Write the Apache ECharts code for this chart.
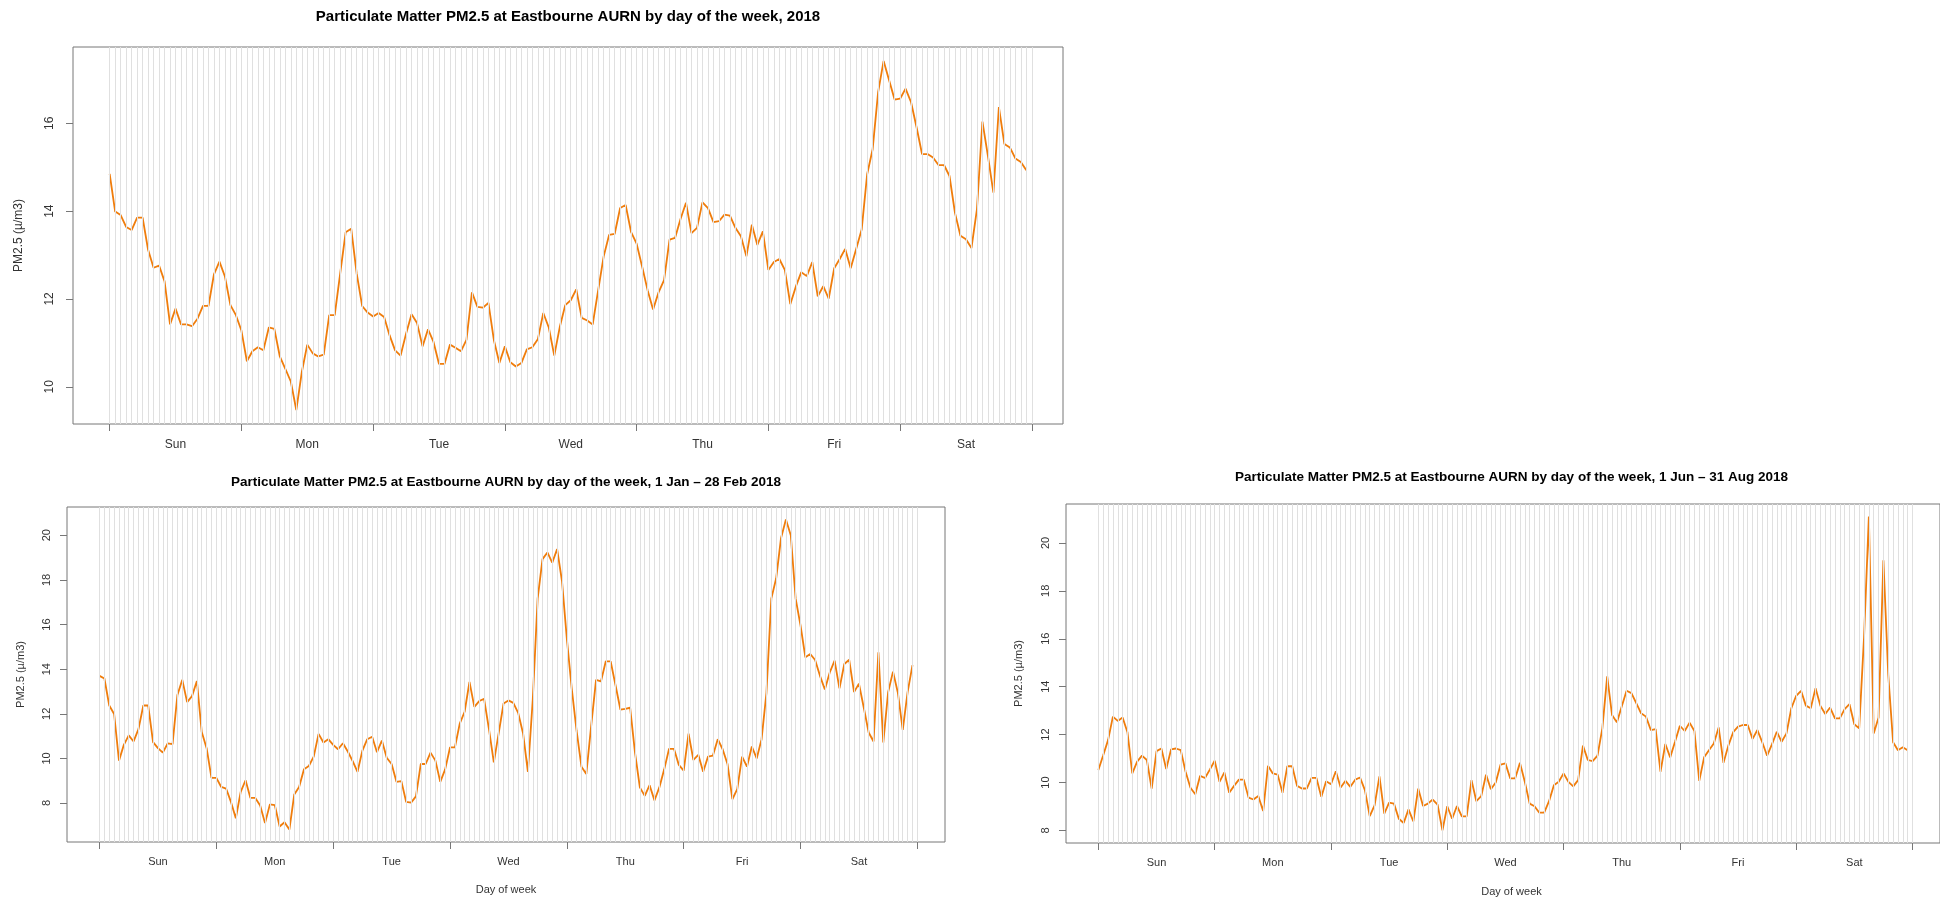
<!DOCTYPE html>
<html><head><meta charset="utf-8">
<script src="https://cdn.jsdelivr.net/npm/echarts@6/dist/echarts.min.js"></script>
<style>html,body{margin:0;padding:0;background:#fff}#c{width:1940px;height:899px}</style>
</head><body><div id="c"></div>
<script>
// ---------- data ----------
const days = ['Sun','Mon','Tue','Wed','Thu','Fri','Sat'];
const dayTicks = [0,24,48,72,96,120,144,168];
const dayLabelPos = [12,36,60,84,108,132,156];
const gridHours = Array.from({length:169}, (_, i) => i);
const hours = Array.from({length:168}, (_, i) => i);

const pmAll2018 = [
 14.85,13.99,13.91,13.64,13.57,13.85,13.85,13.12,12.71,12.76,12.40,11.42,11.78,11.42,11.42,11.38,11.55,11.84,11.84,12.56,12.85,12.51,11.86,11.63,
 11.28,10.58,10.81,10.90,10.83,11.35,11.32,10.69,10.41,10.12,9.47,10.33,10.96,10.76,10.69,10.73,11.63,11.63,12.58,13.52,13.60,12.58,11.84,11.69,
 11.60,11.68,11.59,11.17,10.83,10.71,11.21,11.65,11.45,10.92,11.31,11.02,10.52,10.52,10.96,10.89,10.81,11.07,12.15,11.82,11.80,11.91,11.06,10.54,
 10.92,10.56,10.46,10.54,10.85,10.90,11.08,11.68,11.35,10.71,11.36,11.86,11.97,12.22,11.57,11.51,11.42,12.20,12.97,13.46,13.48,14.07,14.14,13.52,
 13.26,12.74,12.20,11.76,12.15,12.43,13.35,13.39,13.82,14.19,13.50,13.62,14.20,14.07,13.75,13.77,13.92,13.90,13.62,13.43,12.97,13.69,13.23,13.54,
 12.66,12.84,12.91,12.66,11.88,12.28,12.61,12.52,12.84,12.06,12.29,12.01,12.70,12.91,13.14,12.70,13.14,13.58,14.84,15.41,16.71,17.42,16.98,16.54,
 16.56,16.79,16.48,15.91,15.30,15.30,15.22,15.05,15.05,14.80,13.96,13.44,13.36,13.16,14.04,16.04,15.26,14.42,16.37,15.53,15.45,15.20,15.12,14.93
];
const pmJanFeb = [
 13.70,13.58,12.37,11.99,9.90,10.61,11.03,10.76,11.31,12.37,12.37,10.73,10.46,10.26,10.67,10.64,12.84,13.52,12.52,12.79,13.47,11.18,10.46,9.13,
 9.13,8.72,8.65,8.05,7.32,8.50,9.02,8.23,8.23,7.89,7.10,7.94,7.91,6.95,7.14,6.81,8.38,8.72,9.51,9.66,10.08,11.10,10.71,10.86,
 10.61,10.41,10.68,10.31,9.88,9.40,10.35,10.86,10.97,10.28,10.80,10.03,9.75,8.95,8.98,8.05,8.02,8.30,9.75,9.75,10.26,9.90,8.95,9.51,
 10.49,10.49,11.56,12.09,13.43,12.31,12.57,12.67,11.31,9.82,11.13,12.46,12.60,12.49,12.04,11.13,9.40,12.64,17.16,18.93,19.23,18.77,19.38,17.95,
 15.36,13.14,11.24,9.63,9.30,11.47,13.52,13.45,14.35,14.35,13.28,12.19,12.22,12.27,10.26,8.70,8.32,8.80,8.12,8.70,9.51,10.43,10.43,9.71,
 9.45,11.11,9.93,10.16,9.40,10.08,10.13,10.86,10.41,9.75,8.17,8.62,10.08,9.63,10.53,10.00,10.86,12.94,17.16,18.07,19.88,20.71,20.00,17.16,
 15.96,14.53,14.68,14.41,13.70,13.09,13.85,14.38,13.14,14.23,14.42,12.97,13.35,12.27,11.16,10.76,14.75,10.71,12.97,13.89,12.94,11.28,12.97,14.18
];
const pmJunAug = [
 10.52,11.14,11.77,12.75,12.57,12.71,12.10,10.38,10.87,11.12,10.94,9.75,11.31,11.42,10.56,11.38,11.42,11.35,10.45,9.78,9.51,10.28,10.19,10.54,
 10.91,10.03,10.42,9.57,9.86,10.12,10.12,9.37,9.29,9.44,8.81,10.70,10.38,10.33,9.57,10.68,10.68,9.86,9.75,9.75,10.19,10.19,9.40,10.05,
 9.93,10.47,9.79,10.07,9.82,10.12,10.21,9.68,8.60,9.05,10.26,8.70,9.16,9.12,8.49,8.31,8.88,8.38,9.75,9.02,9.12,9.29,9.08,8.00,
 9.01,8.49,9.02,8.59,8.59,10.10,9.22,9.43,10.33,9.72,10.00,10.75,10.80,10.17,10.17,10.82,10.03,9.12,9.01,8.74,8.74,9.22,9.89,10.03,
 10.38,10.03,9.84,10.10,11.54,10.94,10.89,11.12,12.26,14.43,12.82,12.51,13.17,13.83,13.73,13.31,12.89,12.75,12.19,12.23,10.45,11.61,11.05,11.70,
 12.37,12.15,12.50,12.15,10.07,11.05,11.35,11.63,12.30,10.82,11.54,12.10,12.33,12.40,12.40,11.82,12.19,11.68,11.12,11.59,12.12,11.70,12.05,13.10,
 13.62,13.83,13.21,13.10,13.94,13.20,12.86,13.13,12.68,12.68,13.06,13.27,12.43,12.26,16.04,21.10,12.05,12.71,19.28,14.50,11.68,11.35,11.47,11.35
];
const yTicksAll = [10,12,14,16];
const yTicksJanFeb = [8,10,12,14,16,18,20];
const yTicksJunAug = [8,10,12,14,16,18,20];

const titleAll = 'Particulate Matter PM2.5 at Eastbourne AURN by day of the week, 2018';
const titleJanFeb = 'Particulate Matter PM2.5 at Eastbourne AURN by day of the week, 1 Jan \u2013 28 Feb 2018';
const titleJunAug = 'Particulate Matter PM2.5 at Eastbourne AURN by day of the week, 1 Jun \u2013 31 Aug 2018';
const yName = 'PM2.5 (\u00b5/m3)';
const xName = 'Day of week';

// ---------- layout ----------
const FONT = '"Liberation Sans", Arial, sans-serif';
const ORANGE = '#f07d0c';
const panels = [
  {data: pmAll2018, yTicks: yTicksAll, title: titleAll, xname: null,
   grid: {left: 73, top: 47, width: 990, height: 377},
   fs: 12, tfs: 15, titleY: 17, yNameX: 19, xNameY: 0, yMargin: 17, xMargin: 15},
  {data: pmJanFeb, yTicks: yTicksJanFeb, title: titleJanFeb, xname: xName,
   grid: {left: 67, top: 507, width: 878, height: 335},
   fs: 11, tfs: 13.5, titleY: 482, yNameX: 21, xNameY: 890, yMargin: 15, xMargin: 14},
  {data: pmJunAug, yTicks: yTicksJunAug, title: titleJunAug, xname: xName,
   grid: {left: 1066, top: 504, width: 891, height: 339},
   fs: 11, tfs: 13.5, titleY: 477.5, yNameX: 1019, xNameY: 892, yMargin: 15, xMargin: 14}
];

function rng(arr) {
  const mn = Math.min(...arr), mx = Math.max(...arr);
  const pad = 0.04 * (mx - mn);
  return [mn - pad, mx + pad];
}
const xPad = 0.04 * (hours[hours.length - 1] - hours[0]);

const grids = [], xAxes = [], yAxes = [], series = [], graphics = [];
panels.forEach((p, i) => {
  grids.push(Object.assign({show: true, borderColor: '#777', borderWidth: 1, backgroundColor: 'transparent'}, p.grid));
  xAxes.push({
    type: 'value', gridIndex: i, position: 'bottom', min: hours[0] - xPad, max: hours[hours.length - 1] + xPad,
    axisLine: {show: false, onZero: false},
    axisTick: {show: true, customValues: dayTicks, length: 7, lineStyle: {color: '#777'}},
    axisLabel: {show: true, customValues: dayLabelPos, margin: p.xMargin, fontSize: p.fs, fontFamily: FONT, color: '#333',
      formatter: v => days[Math.round((v - 12) / 24)]},
    splitLine: {show: false}
  });
  const r = rng(p.data);
  yAxes.push({
    type: 'value', gridIndex: i, position: 'left', min: r[0], max: r[1],
    axisLine: {show: false, onZero: false},
    axisTick: {show: true, customValues: p.yTicks, length: 7, lineStyle: {color: '#777'}},
    axisLabel: {show: true, customValues: p.yTicks, rotate: 90, margin: p.yMargin, fontSize: p.fs, fontFamily: FONT, color: '#333'},
    splitLine: {show: false}
  });
  series.push({
    type: 'line', xAxisIndex: i, yAxisIndex: i, data: [], z: 1, silent: true,
    markLine: {silent: true, symbol: 'none', animation: false, label: {show: false},
      lineStyle: {color: '#e0e0e0', width: 1, type: 'solid'},
      emphasis: {disabled: true},
      data: gridHours.map(h => ({xAxis: h}))}
  });
  series.push({
    type: 'line', xAxisIndex: i, yAxisIndex: i, z: 3, showSymbol: false, symbol: 'none',
    lineStyle: {color: ORANGE, width: 1.8}, itemStyle: {color: ORANGE},
    data: hours.map((h, k) => [h, p.data[k]])
  });
  const cx = p.grid.left + p.grid.width / 2;
  const cy = p.grid.top + p.grid.height / 2;
  graphics.push({type: 'text', x: cx, y: p.titleY, style: {text: p.title, align: 'center', verticalAlign: 'middle',
    textAlign: 'center', textVerticalAlign: 'middle', font: 'bold ' + p.tfs + 'px ' + FONT, fill: '#000'}});
  graphics.push({type: 'text', x: p.yNameX, y: cy, rotation: Math.PI / 2, style: {text: yName, align: 'center', verticalAlign: 'middle',
    textAlign: 'center', textVerticalAlign: 'middle', font: p.fs + 'px ' + FONT, fill: '#333'}});
  if (p.xname) {
    graphics.push({type: 'text', x: cx, y: p.xNameY, style: {text: p.xname, align: 'center', verticalAlign: 'middle',
      textAlign: 'center', textVerticalAlign: 'middle', font: p.fs + 'px ' + FONT, fill: '#333'}});
  }
});

const chart = echarts.init(document.getElementById('c'), null, {renderer: 'canvas'});
chart.setOption({
  backgroundColor: '#fff',
  animation: false,
  grid: grids, xAxis: xAxes, yAxis: yAxes, series: series,
  graphic: {elements: graphics}
});
</script></body></html>
